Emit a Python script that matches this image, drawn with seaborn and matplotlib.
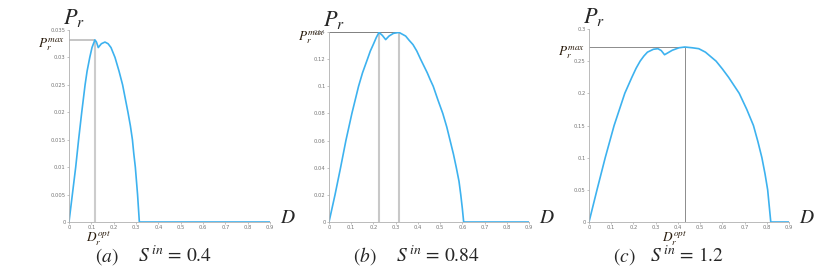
import matplotlib
matplotlib.use("Agg")
import matplotlib.pyplot as plt
import seaborn as sns
from matplotlib.ticker import FuncFormatter

# ---- data ----
a_d = [0, 0.015, 0.030, 0.043, 0.057, 0.072, 0.081, 0.093, 0.103, 0.116, 0.123, 0.131,
       0.145, 0.161, 0.175, 0.188, 0.206, 0.224, 0.240, 0.252, 0.264, 0.275, 0.284, 0.290,
       0.297, 0.302, 0.307, 0.311, 0.315, 0.9]
a_p = [0, 0.005, 0.010, 0.015, 0.020, 0.025, 0.0275, 0.030, 0.0318, 0.0332, 0.0328, 0.0318,
       0.0325, 0.0328, 0.0325, 0.0318, 0.030, 0.0275, 0.025, 0.0225, 0.020, 0.0175, 0.015,
       0.0125, 0.010, 0.0075, 0.005, 0.0025, 0, 0]

b_d = [0, 0.027, 0.052, 0.076, 0.103, 0.118, 0.133, 0.151, 0.173, 0.186, 0.199, 0.213, 0.225,
       0.240, 0.255, 0.270, 0.290, 0.315, 0.345, 0.360, 0.378, 0.395, 0.412, 0.427, 0.442,
       0.455, 0.469, 0.490, 0.512, 0.530, 0.545, 0.560, 0.573, 0.585, 0.593, 0.600, 0.606, 0.9]
b_p = [0, 0.02, 0.04, 0.06, 0.08, 0.09, 0.10, 0.11, 0.12, 0.126, 0.1307, 0.136, 0.1397,
       0.1375, 0.1344, 0.1370, 0.1390, 0.1397, 0.1370, 0.134, 0.1307, 0.126, 0.12, 0.115, 0.11,
       0.105, 0.10, 0.09, 0.08, 0.07, 0.06, 0.05, 0.04, 0.03, 0.02, 0.01, 0, 0]

c_d = [0, 0.036, 0.073, 0.113, 0.161, 0.193, 0.212, 0.230, 0.247, 0.263, 0.290, 0.310, 0.325,
       0.340, 0.375, 0.405, 0.431, 0.465, 0.494, 0.524, 0.572, 0.600, 0.628, 0.676, 0.710,
       0.740, 0.760, 0.778, 0.792, 0.804, 0.818, 0.9]
c_p = [0, 0.05, 0.10, 0.15, 0.20, 0.225, 0.239, 0.25, 0.258, 0.264, 0.2685, 0.2694, 0.2665,
       0.260, 0.267, 0.2708, 0.272, 0.2708, 0.2694, 0.264, 0.25, 0.238, 0.225, 0.20, 0.175,
       0.15, 0.125, 0.10, 0.075, 0.05, 0, 0]

pmax = [0.0332, 0.1397, 0.272]
d_opt = [[0.116], [0.225, 0.315], [0.431]]
ytop = [0.035, 0.14, 0.3]
yticks = [[0, 0.005, 0.01, 0.015, 0.02, 0.025, 0.03, 0.035],
          [0, 0.02, 0.04, 0.06, 0.08, 0.1, 0.12, 0.14],
          [0, 0.05, 0.1, 0.15, 0.2, 0.25, 0.3]]
xticks = [0, 0.1, 0.2, 0.3, 0.4, 0.5, 0.6, 0.7, 0.8, 0.9]
tags = ["(a)", "(b)", "(c)"]
s_in = ["0.4", "0.84", "1.2"]

sns.set_style("white")
plt.rcParams['font.family'] = ['DejaVu Sans']
plt.rcParams['mathtext.fontset'] = 'stix'

W, H = 831, 271
fig = plt.figure(figsize=(W / 100, H / 100), dpi=100)

# axes boxes in pixels: left, right, top, bottom
boxes = [(69, 270, 30, 222), (329, 529, 32, 222), (589, 789, 29, 222)]
curves = [(a_d, a_p), (b_d, b_p), (c_d, c_p)]
blue = '#3db2ef'
vline_style = [dict(color='#cccccc', lw=1.5), dict(color='#c8c8c8', lw=1.5), dict(color='#8c8c8c', lw=0.7)]
hline_style = [dict(color='#bbbbbb', lw=1.2), dict(color='#808080', lw=0.7), dict(color='#8c8c8c', lw=0.7)]
cap_pos = [(95, 138), (353, 396), (613, 650)]

for i in range(3):
    l, r, t, b = boxes[i]
    ax = fig.add_axes([l / W, (H - b) / H, (r - l) / W, (b - t) / H])
    ax.vlines(d_opt[i], 0, pmax[i], **vline_style[i])
    ax.hlines(pmax[i], 0, max(d_opt[i]), **hline_style[i])
    sns.lineplot(x=curves[i][0], y=curves[i][1], ax=ax, color=blue, linewidth=1.2)

    ax.set_xlim(0, 0.9)
    ax.set_ylim(0, ytop[i])
    ax.set_xticks(xticks)
    ax.set_yticks(yticks[i])
    fmt = FuncFormatter(lambda v, pos: f'{v:g}')
    ax.xaxis.set_major_formatter(fmt)
    ax.yaxis.set_major_formatter(fmt)
    ax.tick_params(labelsize=3.8, labelcolor='#777777', color='#aaaaaa',
                   length=1.5, width=0.5, pad=1, left=True, bottom=True)
    for side in ['top', 'right']:
        ax.spines[side].set_visible(False)
    for side in ['left', 'bottom']:
        ax.spines[side].set_color('#b0b0b0')
        ax.spines[side].set_linewidth(0.6)
    ax.patch.set_alpha(0)

    # axis names
    ax.annotate(r'$P_r$', xy=(0, 1), xycoords='axes fraction',
                xytext=(-6, 6), textcoords='offset pixels', fontsize=16, va='baseline')
    ax.annotate(r'$D$', xy=(1, 0), xycoords='axes fraction',
                xytext=(10, -1), textcoords='offset pixels', fontsize=14, va='baseline')
    ax.annotate(r'$P_r^{max}$', xy=(0, pmax[i]), xycoords=('axes fraction', 'data'),
                xytext=(-4, -8), textcoords='offset pixels', fontsize=9.5,
                ha='right', va='baseline', color='#2b1d0e')
    if i == 0:
        ax.annotate(r'$D_r^{opt}$', xy=(d_opt[i][0], 0), xycoords='data',
                    xytext=(-9, -19), textcoords='offset pixels', fontsize=9.5,
                    ha='left', va='baseline', color='#2b1d0e')
    if i == 2:
        ax.annotate(r'$D_r^{opt}$', xy=(d_opt[i][0], 0), xycoords='data',
                    xytext=(2, -19), textcoords='offset pixels', fontsize=9.5,
                    ha='right', va='baseline', color='#2b1d0e')

    # captions
    x1, x2 = cap_pos[i]
    fig.text(x1 / W, (H - 262) / H, '$' + tags[i] + '$', fontsize=14, va='baseline')
    fig.text(x2 / W, (H - 262) / H, r'$S^{\,in}$ = ' + s_in[i], fontsize=14, va='baseline',
             family='STIXGeneral')

fig.savefig('out.png', dpi=100)
